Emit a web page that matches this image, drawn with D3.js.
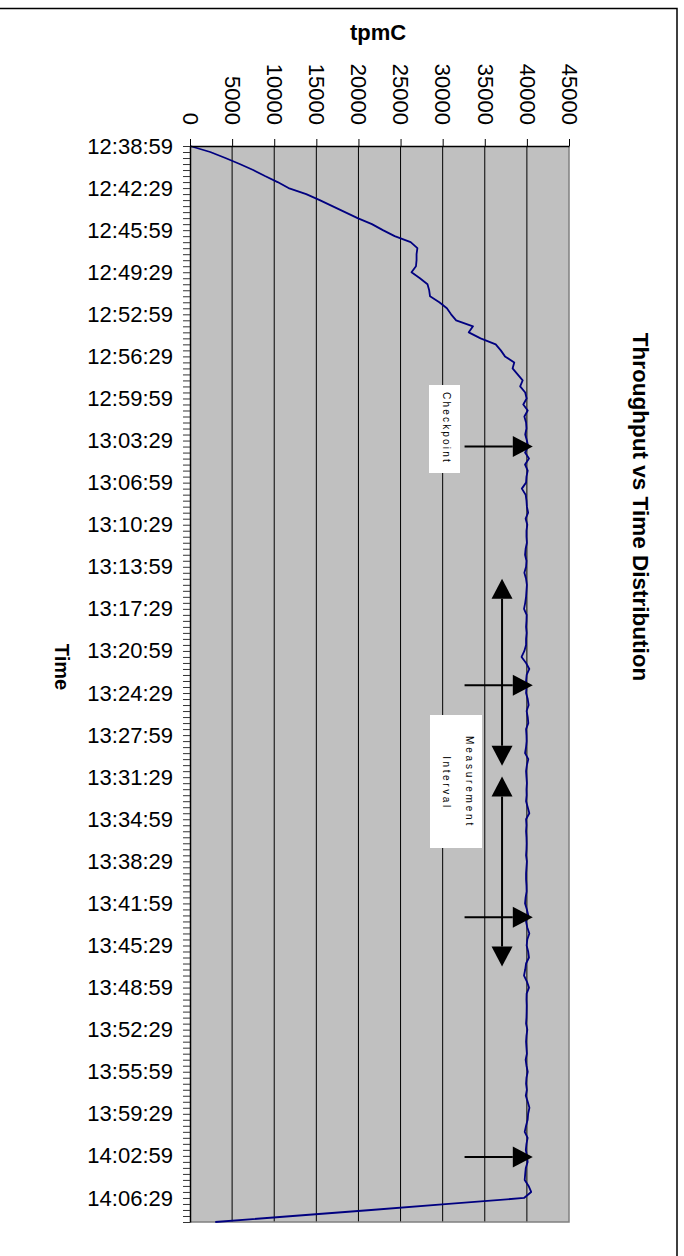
<!DOCTYPE html>
<html><head><meta charset="utf-8">
<script src="https://cdn.jsdelivr.net/npm/d3@7"></script>
<style>
body{margin:0;background:#fff}
svg{display:block}
text{font-family:"Liberation Sans",Arial,Helvetica,sans-serif}
</style>
</head><body>
<svg id="chart" width="684" height="1256"></svg>
<script>
// ---- data ----
const startTime = "12:38:59";
const intervalSeconds = 30;
const tpmC = [
  0, 2400, 4200, 5900, 7500, 8900, 10400, 11700, 13800, 15400,
  16900, 18400, 19900, 21600, 22900, 24300, 26200, 27000, 26900, 26900,
  26830, 26300, 27300, 28200, 28400, 28500, 29600, 30500, 31000, 31600,
  33600, 33100, 34500, 36300, 36900, 37400, 38500, 38300, 38900, 39500,
  39200, 39800, 39970, 39570, 40100, 39700, 39900, 39950, 39800, 40000,
  40150, 39780, 40250, 39780, 40100, 39950, 39900, 39400, 39850, 39950,
  40000, 40150, 39850, 40050, 39950, 39950, 40000, 39850, 39780, 39950,
  39900, 39700, 39900, 40000, 39950, 39900, 39800, 39660, 39970, 39950,
  39900, 39970, 39900, 39900, 39700, 39370, 39900, 40290, 39970, 39900,
  39950, 39900, 40100, 40210, 39970, 40100, 40170, 39900, 39950, 39970,
  39900, 39780, 40170, 40000, 39900, 39950, 40000, 39950, 39970, 39900,
  40100, 40290, 39900, 39950, 39900, 39950, 39970, 39950, 39900, 40000,
  39950, 39900, 39900, 39950, 39970, 39850, 39780, 40000, 40170, 39900,
  40050, 40290, 40050, 39970, 40150, 40250, 39900, 39800, 39660, 40000,
  40250, 39970, 39950, 39980, 39970, 39950, 39900, 40050, 39950, 39900,
  39950, 40000, 39850, 39950, 40100, 39950, 39900, 40000, 39870, 40100,
  40300, 40150, 40090, 39900, 39740, 40090, 39950, 39870, 40000, 40090,
  39870, 39800, 39740, 40200, 40510, 39660, 30700, 21500, 12200, 3000
];
const tpmTicks = [0, 5000, 10000, 15000, 20000, 25000, 30000, 35000, 40000, 45000];
const timeTickLabels = [
  "12:38:59","12:42:29","12:45:59","12:49:29","12:52:59","12:56:29","12:59:59",
  "13:03:29","13:06:59","13:10:29","13:13:59","13:17:29","13:20:59","13:24:29",
  "13:27:59","13:31:29","13:34:59","13:38:29","13:41:59","13:45:29","13:48:59",
  "13:52:29","13:55:59","13:59:29","14:02:59","14:06:29"
];
const labelEvery = 7;
// annotations (category positions / tpmC values)
const checkpointAt = [50, 89.7, 128.3, 168.2];
const checkpointFrom = 32600, checkpointTo = 40700;
const measurementIntervals = [[72.0, 103.1], [104.9, 136.5]];
const measurementX = 37050;

// ---- categories ----
const parseT = d3.timeParse("%H:%M:%S"), fmtT = d3.timeFormat("%H:%M:%S");
const t0 = parseT(startTime);
const categories = tpmC.map((_, i) => fmtT(d3.timeSecond.offset(t0, i * intervalSeconds)));
const data = tpmC.map((v, i) => ({cat: categories[i], i, v}));

// ---- layout ----
const svg = d3.select("#chart");
const L = 190, R = 569, T = 146, B = 1222;
const font = '"Liberation Sans",Arial,sans-serif';

const x = d3.scaleLinear().domain([0, 45000]).range([L, R]);
const y = d3.scaleLinear().domain([0, tpmC.length - 1]).range([T, B]);

// outer frame (clipped)
svg.append("path").attr("d", `M0,8.5 H677 V1256`).attr("fill", "none")
  .attr("stroke", "#000").attr("stroke-width", 1.5);

// plot background
svg.append("rect").attr("x", L).attr("y", T).attr("width", R - L).attr("height", B - T)
  .attr("fill", "#c0c0c0");

// gridlines
svg.append("g").selectAll("line").data(tpmTicks.filter(d => d > 0 && d < 45000)).join("line")
  .attr("x1", d => x(d)).attr("x2", d => x(d)).attr("y1", T).attr("y2", B)
  .attr("stroke", "#000").attr("stroke-width", 1);

// plot border right/bottom
svg.append("path").attr("d", `M${L},${B} H${R} V${T}`).attr("fill", "none")
  .attr("stroke", "#808080").attr("stroke-width", 1.5);

// line
svg.append("path").datum(data)
  .attr("d", d3.line().x(d => x(d.v)).y(d => y(d.i)))
  .attr("fill", "none").attr("stroke", "#000080").attr("stroke-width", 1.8)
  .attr("stroke-linejoin", "round");

// top axis (tpmC)
const xAxis = svg.append("g").attr("transform", `translate(0,${T})`)
  .call(d3.axisTop(x).tickValues(tpmTicks).tickSize(7).tickSizeOuter(0).tickFormat(d3.format("d")));
xAxis.select(".domain").attr("stroke", "#000").attr("stroke-width", 1.5);
xAxis.selectAll(".tick line").attr("stroke", "#000");
xAxis.selectAll(".tick text")
  .attr("x", 0).attr("y", 0).attr("dy", "0.35em")
  .attr("transform", "translate(0,-21) rotate(90)")
  .attr("text-anchor", "end")
  .attr("font-family", font).attr("font-size", 22).attr("fill", "#000");

// left axis (Time)
const yAxis = svg.append("g").attr("transform", `translate(${L},0)`)
  .call(d3.axisLeft(y).tickValues(d3.range(tpmC.length)).tickSize(7).tickSizeOuter(0).tickPadding(10)
    .tickFormat(i => i % labelEvery === 0 && timeTickLabels[i / labelEvery] ? timeTickLabels[i / labelEvery] : ""));
yAxis.select(".domain").attr("stroke", "#000").attr("stroke-width", 1.5);
yAxis.selectAll(".tick line").attr("stroke", "#333").attr("stroke-width", 1);
yAxis.selectAll(".tick text").attr("font-family", font).attr("font-size", 22).attr("fill", "#000");

// axis titles
svg.append("text").attr("x", 378).attr("y", 40).attr("text-anchor", "middle")
  .attr("font-family", font).attr("font-weight", "bold").attr("font-size", 22).text("tpmC");
svg.append("text").attr("transform", "translate(62,667) rotate(90)").attr("text-anchor", "middle")
  .attr("dy", "0.35em").attr("font-family", font).attr("font-weight", "bold").attr("font-size", 20).text("Time");
svg.append("text").attr("transform", "translate(641,507) rotate(90)").attr("text-anchor", "middle")
  .attr("dy", "0.35em").attr("font-family", font).attr("font-weight", "bold").attr("font-size", 22.5)
  .text("Throughput vs Time Distribution");

// annotation boxes
function box(x0, y0, x1, y1) {
  svg.append("rect").attr("x", x0).attr("y", y0).attr("width", x1 - x0).attr("height", y1 - y0).attr("fill", "#fff");
}
box(429, 385, 460, 473);
svg.append("text").attr("transform", "translate(446,428) rotate(90)").attr("text-anchor", "middle")
  .attr("dy", "0.35em").attr("font-family", font).attr("font-size", 10).attr("letter-spacing", 2.2).text("Checkpoint");
box(430, 715, 482, 848);
svg.append("text").attr("transform", "translate(469,782) rotate(90)").attr("text-anchor", "middle")
  .attr("dy", "0.35em").attr("font-family", font).attr("font-size", 10).attr("letter-spacing", 2.8).text("Measurement");
svg.append("text").attr("transform", "translate(446,783) rotate(90)").attr("text-anchor", "middle")
  .attr("dy", "0.35em").attr("font-family", font).attr("font-size", 10).attr("letter-spacing", 2.6).text("Interval");

// arrows
const headLen = 20, headHalf = 10.5;
const ann = svg.append("g");
checkpointAt.forEach(c => {
  const yy = y(c), x0 = x(checkpointFrom), x1 = x(checkpointTo);
  ann.append("line").attr("x1", x0).attr("x2", x1 - headLen).attr("y1", yy).attr("y2", yy)
    .attr("stroke", "#000").attr("stroke-width", 2);
  ann.append("path").attr("d", `M${x1},${yy} L${x1 - headLen},${yy - headHalf} L${x1 - headLen},${yy + headHalf} Z`)
    .attr("fill", "#000");
});
measurementIntervals.forEach(([a, b]) => {
  const xx = x(measurementX), y0 = y(a), y1 = y(b);
  ann.append("line").attr("x1", xx).attr("x2", xx).attr("y1", y0 + headLen).attr("y2", y1 - headLen)
    .attr("stroke", "#000").attr("stroke-width", 2);
  ann.append("path").attr("d", `M${xx},${y0} L${xx - headHalf},${y0 + headLen} L${xx + headHalf},${y0 + headLen} Z`).attr("fill", "#000");
  ann.append("path").attr("d", `M${xx},${y1} L${xx - headHalf},${y1 - headLen} L${xx + headHalf},${y1 - headLen} Z`).attr("fill", "#000");
});
</script>
</body></html>
